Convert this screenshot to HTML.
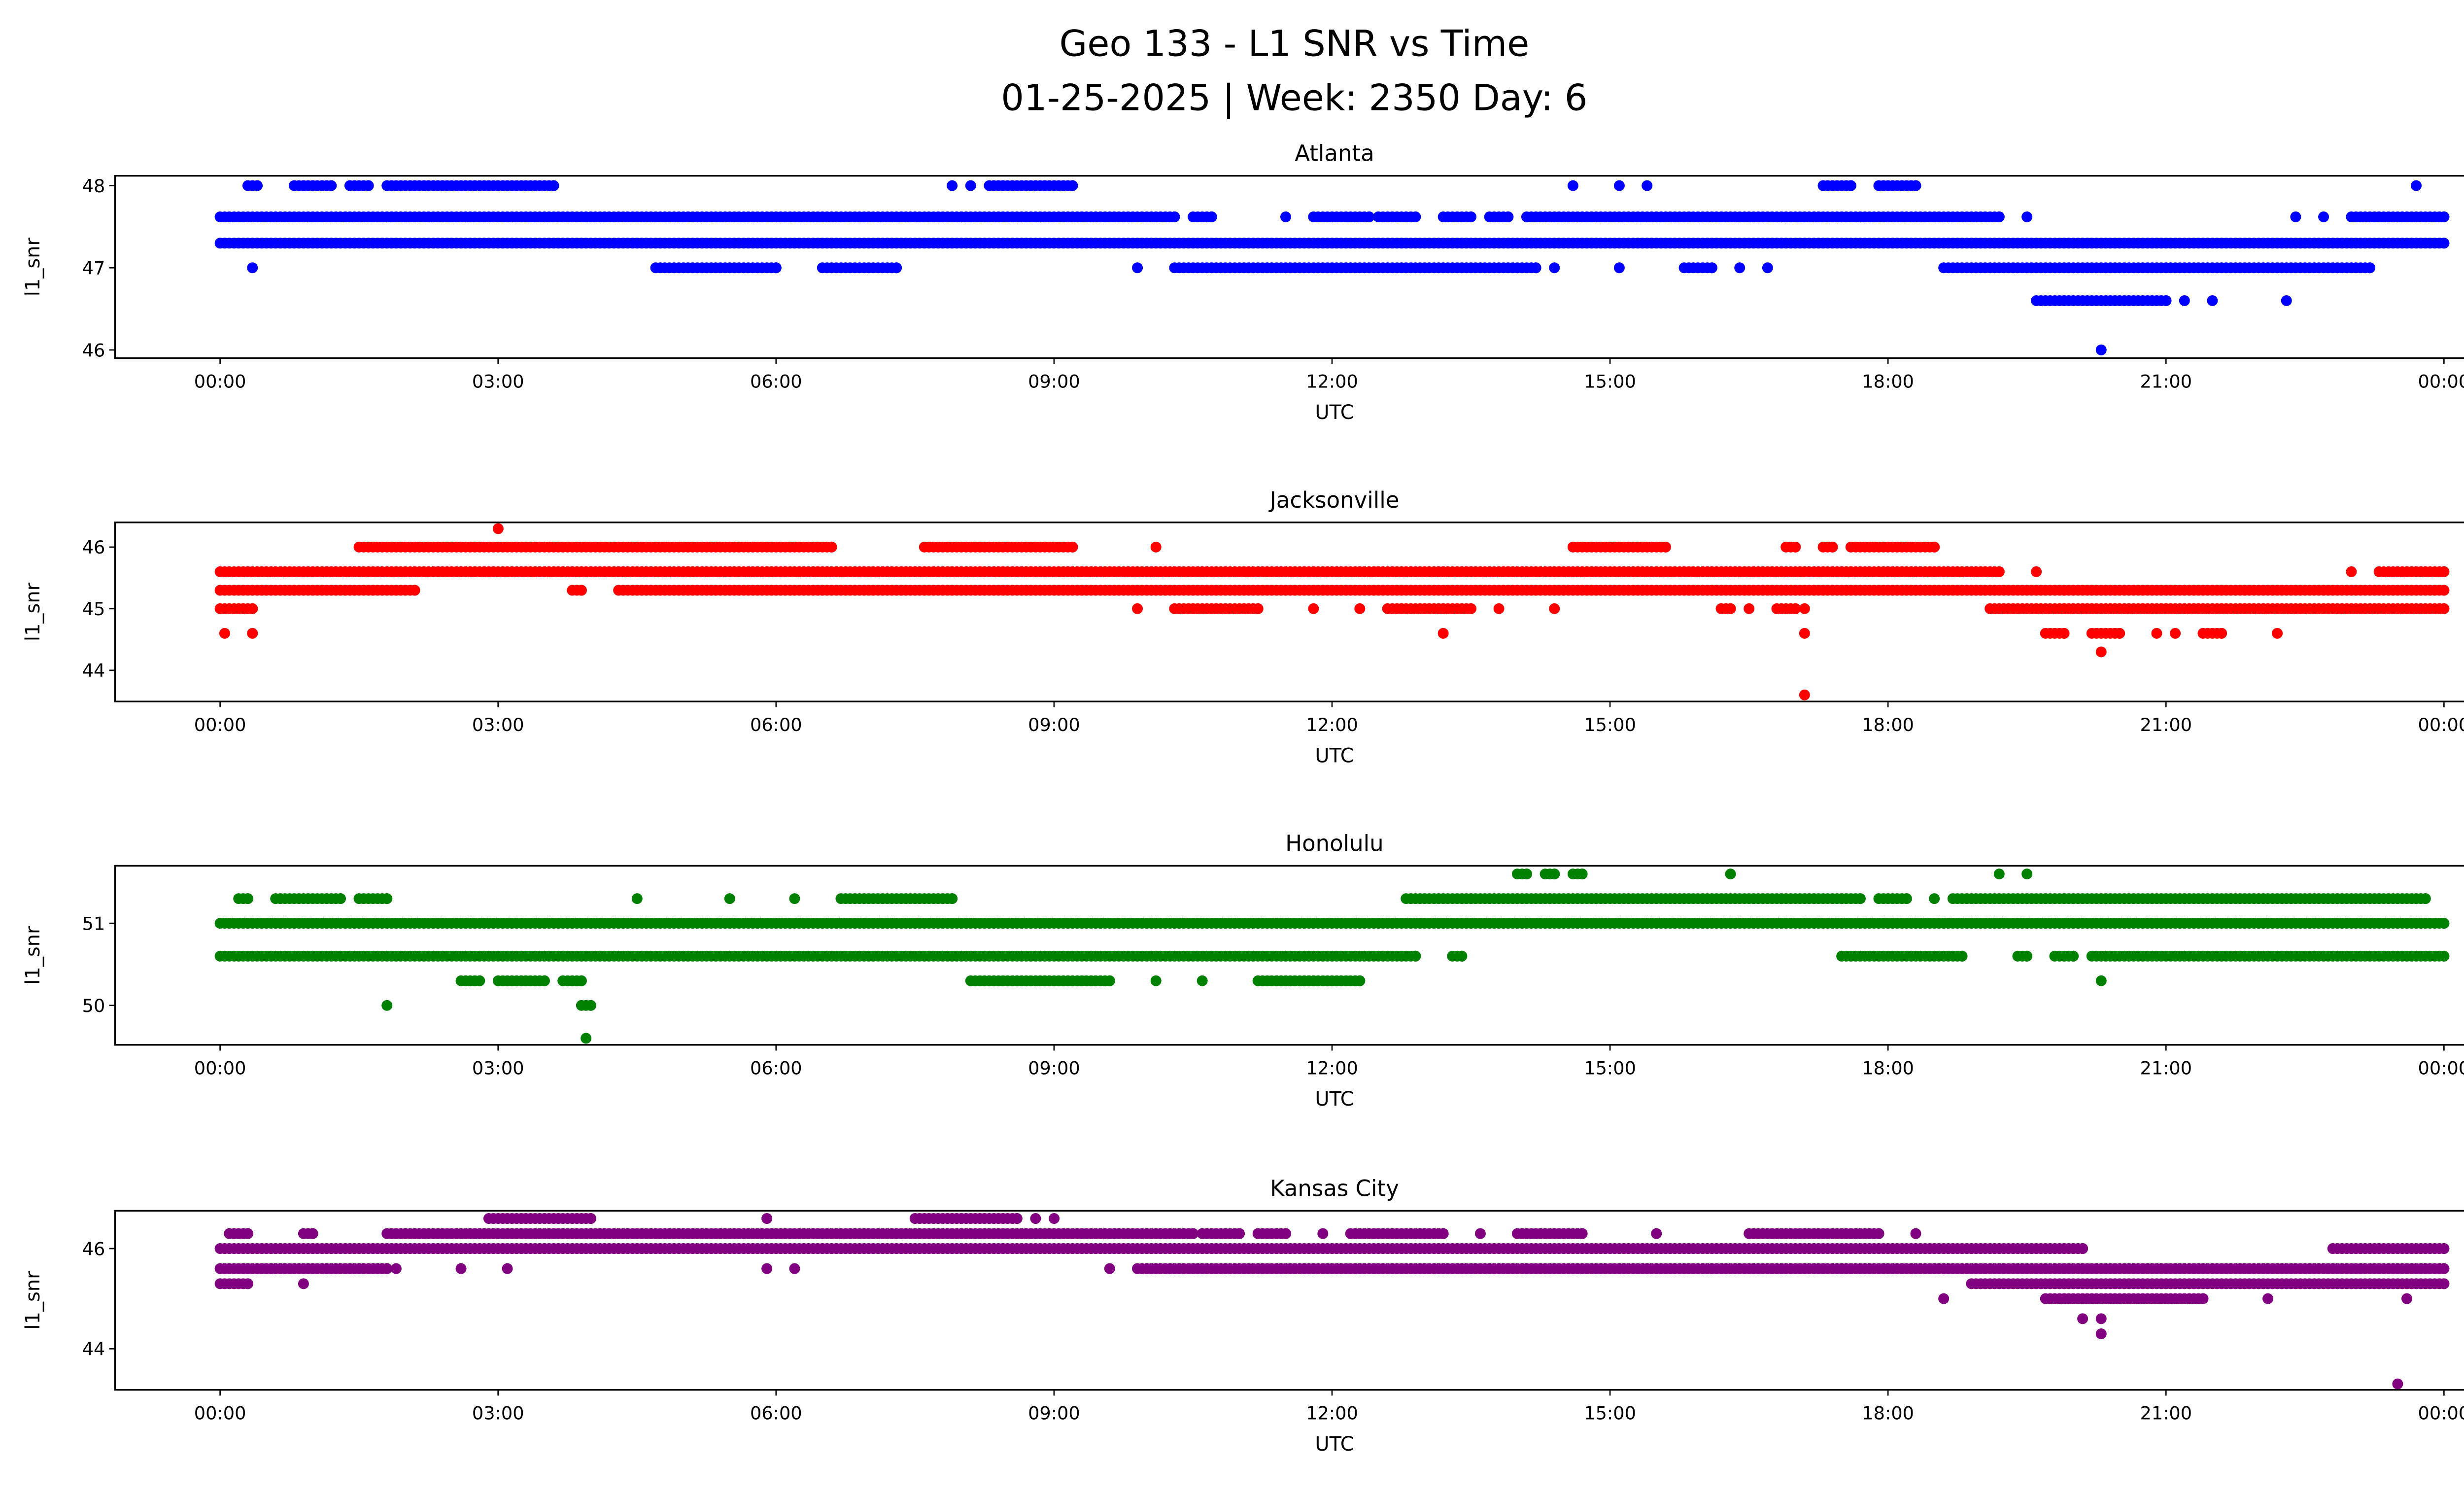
<!DOCTYPE html>
<html><head><meta charset="utf-8"><style>html,body{margin:0;padding:0;background:#fff}svg{display:block}text{font-family:"DejaVu Sans","Liberation Sans",sans-serif}</style></head>
<body>
<svg id="fig" width="5226" height="3033" viewBox="0 0 1568 910" xmlns="http://www.w3.org/2000/svg">
<rect x="0" y="0" width="1568" height="910" fill="#fff"/>
<text x="788" y="34" font-size="22" text-anchor="middle">Geo 133 - L1 SNR vs Time</text>
<text x="788" y="67" font-size="22" text-anchor="middle">01-25-2025 | Week: 2350 Day: 6</text>
</svg>
<script>
// x tick labels (hours)
const xTickHours = [0,3,6,9,12,15,18,21,24];
const xTickLabels = ["00:00","03:00","06:00","09:00","12:00","15:00","18:00","21:00","00:00"];
// Atlanta runs: [value, startHour, endHour]
const atlantaRuns = [
[47.3,0,24],
[47.62,0,10.3],[47.62,10.5,10.7],[47.62,11.5,11.5],[47.62,11.8,12.4],[47.62,12.5,12.9],[47.62,13.2,13.5],[47.62,13.7,13.9],[47.62,14.1,19.2],[47.62,19.5,19.5],[47.62,22.4,22.4],[47.62,22.7,22.7],[47.62,23.0,24],
[48,0.3,0.4],[48,0.8,1.2],[48,1.4,1.6],[48,1.8,3.6],[48,7.9,7.9],[48,8.1,8.1],[48,8.3,9.2],[48,14.6,14.6],[48,15.1,15.1],[48,15.4,15.4],[48,17.3,17.6],[48,17.9,18.3],[48,23.7,23.7],
[47,0.35,0.35],[47,4.7,6.0],[47,6.5,7.3],[47,9.9,9.9],[47,10.3,14.2],[47,14.4,14.4],[47,15.1,15.1],[47,15.8,16.1],[47,16.4,16.4],[47,16.7,16.7],[47,18.6,23.2],
[46.6,19.6,21.0],[46.6,21.2,21.2],[46.6,21.5,21.5],[46.6,22.3,22.3],
[46,20.3,20.3]];
const jacksonvilleRuns = [
[45.6,0,19.2],[45.6,19.6,19.6],[45.6,23.0,23.0],[45.6,23.3,24],
[45.3,0,2.1],[45.3,3.8,3.9],[45.3,4.3,24],
[45,0,0.35],[45,9.9,9.9],[45,10.3,11.2],[45,11.8,11.8],[45,12.3,12.3],[45,12.6,13.5],[45,13.8,13.8],[45,14.4,14.4],[45,16.2,16.3],[45,16.5,16.5],[45,16.8,17.0],[45,17.1,17.1],[45,19.1,24],
[46,1.5,6.6],[46,7.6,9.2],[46,10.1,10.1],[46,14.6,15.6],[46,16.9,17.0],[46,17.3,17.4],[46,17.6,18.5],
[46.3,3.0,3.0],
[44.6,0.05,0.05],[44.6,0.35,0.35],[44.6,13.2,13.2],[44.6,17.1,17.1],[44.6,19.7,19.9],[44.6,20.2,20.5],[44.6,20.9,20.9],[44.6,21.1,21.1],[44.6,21.4,21.6],[44.6,22.2,22.2],
[44.3,20.3,20.3],[43.6,17.1,17.1]];
const honoluluRuns = [
[51,0,24],
[50.6,0,12.9],[50.6,13.3,13.4],[50.6,17.5,18.8],[50.6,19.4,19.5],[50.6,19.8,20.0],[50.6,20.2,24],
[51.3,0.2,0.3],[51.3,0.6,1.3],[51.3,1.5,1.8],[51.3,4.5,4.5],[51.3,5.5,5.5],[51.3,6.2,6.2],[51.3,6.7,7.9],[51.3,12.8,17.7],[51.3,17.9,18.2],[51.3,18.5,18.5],[51.3,18.7,23.8],
[50.3,2.6,2.8],[50.3,3.0,3.5],[50.3,3.7,3.9],[50.3,8.1,9.6],[50.3,10.1,10.1],[50.3,10.6,10.6],[50.3,11.2,12.3],[50.3,20.3,20.3],
[50,1.8,1.8],[50,3.9,4.0],[49.6,3.95,3.95],
[51.6,14.0,14.1],[51.6,14.3,14.4],[51.6,14.6,14.7],[51.6,16.3,16.3],[51.6,19.2,19.2],[51.6,19.5,19.5]];
const kansasRuns = [
[46,0,20.1],[46,22.8,24],
[45.6,0,1.8],[45.6,1.9,1.9],[45.6,2.6,2.6],[45.6,3.1,3.1],[45.6,5.9,5.9],[45.6,6.2,6.2],[45.6,9.6,9.6],[45.6,9.9,24],
[46.3,0.1,0.3],[46.3,0.9,1.0],[46.3,1.8,10.5],[46.3,10.6,11.0],[46.3,11.2,11.5],[46.3,11.9,11.9],[46.3,12.2,13.2],[46.3,13.6,13.6],[46.3,14.0,14.7],[46.3,15.5,15.5],[46.3,16.5,17.9],[46.3,18.3,18.3],
[45.3,0,0.3],[45.3,0.9,0.9],[45.3,18.9,24],
[46.6,2.9,4.0],[46.6,5.9,5.9],[46.6,7.5,8.6],[46.6,8.8,8.8],[46.6,9.0,9.0],
[45,18.6,18.6],[45,19.7,21.4],[45,22.1,22.1],[45,23.6,23.6],
[44.6,20.1,20.1],[44.6,20.3,20.3],[44.3,20.3,20.3],[43.3,23.5,23.5]];

const NS="http://www.w3.org/2000/svg";
const svg=document.getElementById('fig');
function mk(t,a,p){const e=document.createElementNS(NS,t);for(const k in a)e.setAttribute(k,a[k]);(p||svg).appendChild(e);return e;}
const X0=70,X1=1555;
function xs(h){return 134+h*(1488-134)/24;}
const panels=[
{name:'atlanta',title:'Atlanta',top:107,bot:218,v0:48,y0:113,upp:50,ticks:[46,47,48],runs:atlantaRuns,color:'#0000ff'},
{name:'jacksonville',title:'Jacksonville',top:318,bot:427,v0:46,y0:333,upp:37.5,ticks:[44,45,46],runs:jacksonvilleRuns,color:'#ff0000'},
{name:'honolulu',title:'Honolulu',top:527,bot:636,v0:51,y0:562,upp:50,ticks:[50,51],runs:honoluluRuns,color:'#008000'},
{name:'kansas-city',title:'Kansas City',top:737,bot:846,v0:46,y0:760,upp:30.5,ticks:[44,46],runs:kansasRuns,color:'#800080'}];
panels.forEach(p=>{
  const g=mk('g',{});
  
  
  const ys=v=>p.y0+(p.v0-v)*p.upp;
  const t=mk('text',{x:(X0+X1)/2,y:p.top-9,'font-size':13.5,'text-anchor':'middle'},g);t.textContent=p.title;
  
  
  const pts=mk('g',{fill:p.color},g);
  
  
  p.runs.forEach(r=>{
    const y=ys(r[0]);
    for(let h=r[1];h<=r[2]+1e-9;h+=0.05){
      const c=mk('circle',{cx:xs(h).toFixed(1),cy:y.toFixed(1),r:3.3},pts);
    }
    if(r[2]-r[1]>0.05){mk('circle',{cx:xs(r[2]).toFixed(1),cy:y.toFixed(1),r:3.3},pts);}
  });
  const box=mk('rect',{x:X0,y:p.top,width:X1-X0,height:p.bot-p.top,fill:'none',stroke:'#000','stroke-width':1},g);
  
  
  p.ticks.forEach(v=>{
    const y=ys(v);
    mk('line',{x1:X0-3.5,x2:X0,y1:y,y2:y,stroke:'#000','stroke-width':0.8},g);
    const tt=mk('text',{x:X0-6,y:y+4,'font-size':11,'text-anchor':'end'},g);tt.textContent=v;
    
    
  });
  xTickHours.forEach((h,i)=>{
    const x=xs(h);
    mk('line',{x1:x,x2:x,y1:p.bot,y2:p.bot+3.5,stroke:'#000','stroke-width':0.8},g);
    const tt=mk('text',{x:x,y:p.bot+18,'font-size':11,'text-anchor':'middle'},g);tt.textContent=xTickLabels[i];
    
    
  });
  const xl=mk('text',{x:(X0+X1)/2,y:p.bot+37,'font-size':12,'text-anchor':'middle'},g);xl.textContent='UTC';
  
  
  const cy=(p.top+p.bot)/2;
  const yl=mk('text',{x:0,y:0,'font-size':12,'text-anchor':'middle',transform:`translate(24,${cy}) rotate(-90)`},g);yl.textContent='l1_snr';
  
  
});
</script>
</body></html>
